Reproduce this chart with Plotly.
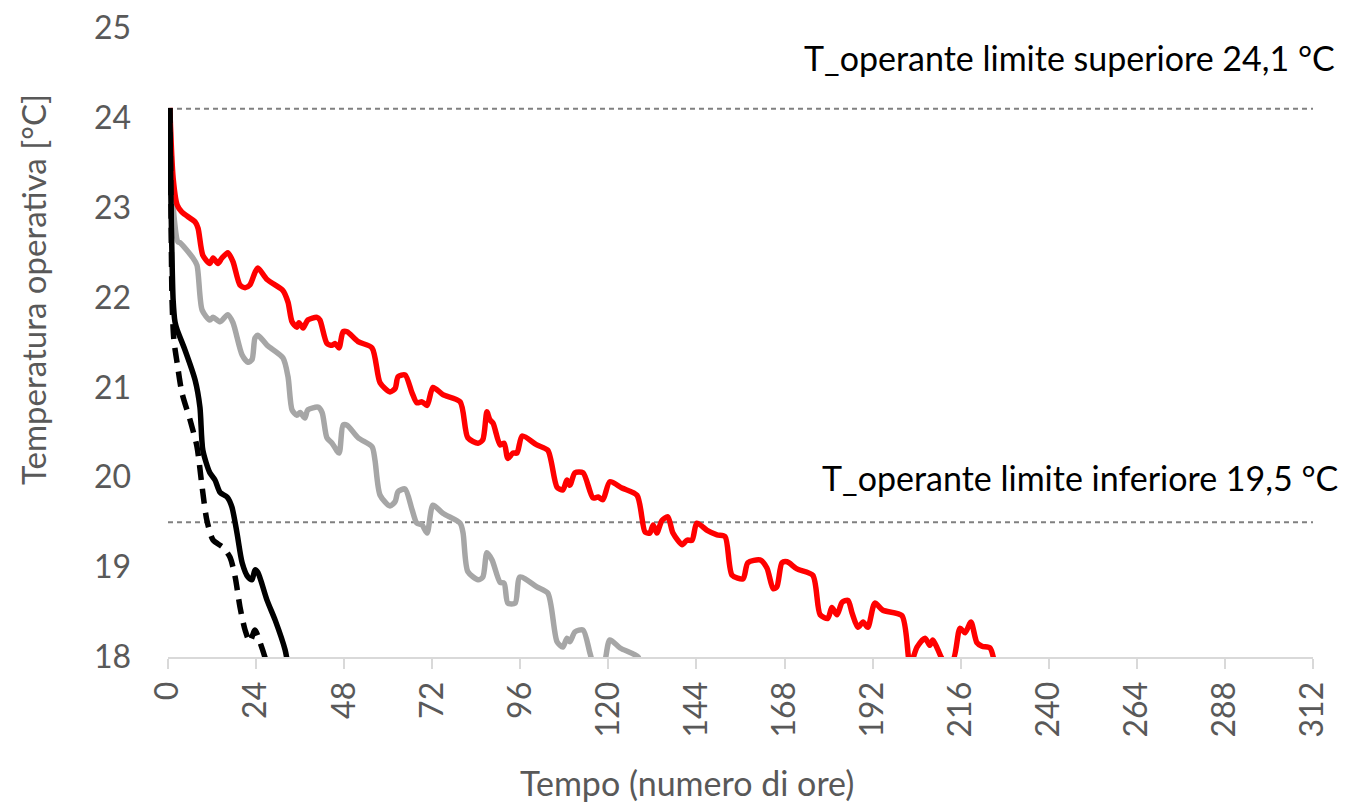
import plotly.graph_objects as go

# ---- data (hours, °C) ----
red_h = [0.5, 1.4, 2.5, 3.8, 7.4, 8.2, 9.5, 11.4, 12.3, 13.6, 14.7, 16.3, 17.7, 19.6, 21.0, 22.3, 23.7, 24.5,
         27.0, 31.3, 32.7, 33.8, 35.1, 35.7, 36.8, 38.1, 40.6, 41.4, 43.3, 44.7, 45.5, 46.6, 47.7, 48.8, 51.8,
         55.6, 57.8, 60.5, 61.9, 62.7, 64.6, 66.5, 67.8, 69.2, 70.6, 72.2, 74.9, 79.6, 81.7, 84.5, 85.8, 86.9,
         87.7, 88.6, 90.5, 91.6, 92.6, 94.0, 95.1, 96.5, 100.5, 103.5, 106.0, 107.6, 108.7, 109.5, 110.9, 113.1,
         115.8, 117.2, 118.5, 120.4, 123.7, 127.8, 130.0, 131.3, 132.2, 133.2, 134.6, 136.2, 137.6, 140.1, 141.4,
         142.8, 144.1, 146.9, 149.6, 151.8, 153.7, 156.7, 158.0, 161.3, 163.2, 164.9, 165.9, 167.3, 168.7, 171.4,
         175.7, 177.7, 179.8, 180.9, 182.3, 183.7, 185.3, 186.4, 188.0, 189.4, 190.7, 192.6, 194.8, 200.0, 202.2,
         204.1, 206.3, 207.6, 208.4, 209.8, 211.2, 213.9, 215.8, 217.2, 218.8, 220.4, 221.8, 224.0, 225.3]
red_t = [24.11, 23.33, 23.03, 22.95, 22.84, 22.77, 22.47, 22.38, 22.44, 22.38, 22.44, 22.50, 22.40, 22.14, 22.11,
         22.14, 22.28, 22.33, 22.20, 22.08, 21.95, 21.73, 21.67, 21.72, 21.66, 21.75, 21.78, 21.75, 21.49, 21.47,
         21.49, 21.44, 21.62, 21.62, 21.51, 21.44, 21.05, 20.95, 20.99, 21.12, 21.14, 20.94, 20.83, 20.84, 20.80,
         21.00, 20.92, 20.84, 20.44, 20.38, 20.42, 20.73, 20.64, 20.60, 20.36, 20.38, 20.21, 20.27, 20.27, 20.46,
         20.36, 20.30, 19.89, 19.86, 19.97, 19.91, 20.05, 20.05, 19.77, 19.78, 19.75, 19.95, 19.88, 19.80, 19.39,
         19.38, 19.47, 19.38, 19.52, 19.56, 19.38, 19.25, 19.30, 19.30, 19.49, 19.41, 19.36, 19.34, 18.91, 18.87,
         19.05, 19.08, 18.99, 18.76, 18.78, 19.05, 19.06, 18.98, 18.91, 18.47, 18.43, 18.55, 18.47, 18.61, 18.63,
         18.49, 18.33, 18.39, 18.33, 18.60, 18.52, 18.46, 17.91, 18.11, 18.21, 18.13, 18.19, 18.08, 17.97, 17.97,
         18.32, 18.27, 18.39, 18.16, 18.12, 18.10, 17.91]

gray_h = [0.5, 0.8, 1.6, 2.7, 3.3, 6.8, 7.9, 9.3, 11.4, 12.3, 14.2, 16.3, 17.7, 20.2, 21.8, 22.9, 23.7, 24.5,
          27.0, 31.3, 32.7, 33.8, 35.1, 36.0, 37.3, 38.1, 40.9, 42.0, 43.3, 44.7, 46.6, 47.7, 48.8, 51.8, 55.6,
          56.4, 57.8, 60.5, 61.9, 62.7, 64.6, 66.5, 67.8, 69.2, 70.6, 72.2, 74.9, 79.6, 80.4, 81.7, 84.5, 85.8,
          86.9, 88.3, 90.5, 91.6, 92.6, 94.6, 95.9, 100.5, 103.5, 106.0, 107.6, 108.7, 109.5, 110.9, 113.1, 115.0,
          116.3, 118.5, 120.4, 123.2, 128.1, 128.6]
gray_t = [24.11, 23.64, 22.92, 22.62, 22.61, 22.44, 22.36, 21.86, 21.75, 21.78, 21.73, 21.81, 21.72, 21.36, 21.28,
          21.31, 21.55, 21.58, 21.47, 21.33, 21.12, 20.75, 20.69, 20.72, 20.66, 20.75, 20.78, 20.72, 20.44, 20.38,
          20.27, 20.58, 20.58, 20.44, 20.34, 20.19, 19.80, 19.68, 19.73, 19.84, 19.87, 19.64, 19.49, 19.47, 19.38,
          19.69, 19.60, 19.49, 19.38, 18.95, 18.86, 18.89, 19.16, 19.08, 18.83, 18.82, 18.60, 18.60, 18.89, 18.78,
          18.71, 18.17, 18.11, 18.21, 18.17, 18.28, 18.30, 18.04, 17.88, 17.88, 18.19, 18.10, 18.00, 17.91]

black_h = [0.5, 0.8, 1.1, 1.4, 1.9, 2.5, 4.6, 7.4, 8.7, 9.5, 11.4, 12.8, 14.2, 16.1, 17.4, 18.8, 20.2, 21.8,
           22.9, 23.7, 24.5, 27.0, 29.2, 31.9, 32.7]
black_t = [24.11, 23.09, 22.42, 21.97, 21.73, 21.64, 21.42, 21.08, 20.78, 20.30, 20.05, 19.97, 19.83, 19.78,
           19.67, 19.38, 19.05, 18.89, 18.86, 18.97, 18.94, 18.63, 18.41, 18.08, 17.91]

dash_h = [0.5, 0.8, 1.1, 1.6, 2.5, 3.8, 6.0, 7.9, 9.3, 10.6, 12.3, 15.0, 16.9, 18.3, 19.6, 21.0, 22.3, 23.7,
          25.1, 26.4, 27.0]
dash_t = [24.11, 23.09, 21.97, 21.53, 21.27, 20.94, 20.64, 20.34, 19.89, 19.52, 19.30, 19.22, 19.11, 18.89,
          18.56, 18.30, 18.17, 18.30, 18.16, 18.00, 17.91]

limit_h = [0, 312]
upper_limit = 24.1
lower_limit = 19.5
x_ticks = list(range(0, 313, 24))
y_ticks = [18, 19, 20, 21, 22, 23, 24, 25]

FONT = "Lato"
GREY_TXT = "#595959"
SMOOTH = dict(shape="spline", smoothing=0.7)

fig = go.Figure()
fig.add_trace(go.Scatter(x=limit_h, y=[upper_limit] * 2, mode="lines",
                         line=dict(color="#808080", width=2, dash="5px,4px"), hoverinfo="skip"))
fig.add_trace(go.Scatter(x=limit_h, y=[lower_limit] * 2, mode="lines",
                         line=dict(color="#808080", width=2, dash="5px,4px"), hoverinfo="skip"))
fig.add_trace(go.Scatter(x=gray_h, y=gray_t, mode="lines", line=dict(color="#A6A6A6", width=5.5, **SMOOTH)))
fig.add_trace(go.Scatter(x=red_h, y=red_t, mode="lines", line=dict(color="#FF0000", width=5.5, **SMOOTH)))
fig.add_trace(go.Scatter(x=dash_h, y=dash_t, mode="lines",
                         line=dict(color="#000000", width=5.5, dash="15px,9px", **SMOOTH)))
fig.add_trace(go.Scatter(x=black_h, y=black_t, mode="lines", line=dict(color="#000000", width=5.5, **SMOOTH)))

fig.update_layout(
    width=1348, height=805,
    margin=dict(l=168, r=35, t=28, b=148, autoexpand=False),
    paper_bgcolor="white", plot_bgcolor="white",
    showlegend=False,
    font=dict(family=FONT, color=GREY_TXT, size=30),
    xaxis=dict(range=[0, 312], tickvals=x_ticks, ticktext=[str(v) for v in x_ticks],
               tickangle=-90, showgrid=False, zeroline=False, automargin=False,
               showline=True, linecolor="#D9D9D9", linewidth=2,
               ticks="outside", ticklen=10, tickcolor="#D9D9D9", tickwidth=2,
               tickfont=dict(family=FONT, size=32, color=GREY_TXT)),
    yaxis=dict(range=[18, 25], tickvals=y_ticks, showgrid=False, zeroline=False, showline=False,
               ticks="", ticklabelstandoff=36, automargin=False,
               tickfont=dict(family=FONT, size=32, color=GREY_TXT)),
    annotations=[
        dict(text="T_operante limite superiore 24,1 °C", xref="paper", yref="y", x=1.021, y=24.67,
             xanchor="right", yanchor="middle", showarrow=False,
             font=dict(family=FONT, size=34, color="#000000")),
        dict(text="T_operante limite inferiore 19,5 °C", xref="paper", yref="y", x=1.024, y=20.0,
             xanchor="right", yanchor="middle", showarrow=False,
             font=dict(family=FONT, size=34, color="#000000")),
        dict(text="Tempo (numero di ore)", xref="paper", yref="paper", x=0.453, y=-0.2,
             xanchor="center", yanchor="middle", showarrow=False,
             font=dict(family=FONT, size=34, color=GREY_TXT)),
        dict(text="Temperatura operativa [°C]", xref="paper", yref="paper", x=-0.118, y=0.585,
             xanchor="center", yanchor="middle", textangle=-90, showarrow=False,
             font=dict(family=FONT, size=33, color=GREY_TXT)),
    ],
)

fig.write_html("out.html", config={"displayModeBar": False},
               post_script="document.body.style.margin='0';document.body.style.overflow='hidden';")
